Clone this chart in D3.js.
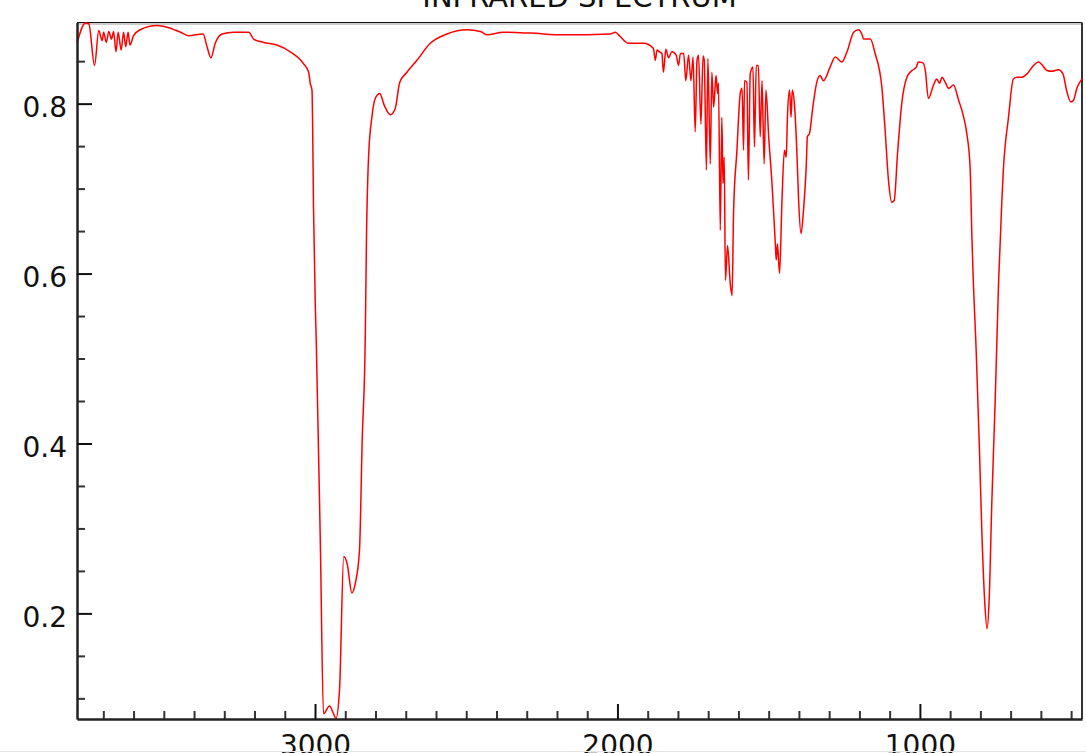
<!DOCTYPE html>
<html>
<head>
<meta charset="utf-8">
<script src="https://cdn.jsdelivr.net/npm/d3@7"></script>
<style>
  body { margin: 0; background: #fff; }
  svg { display: block; font-family: "DejaVu Sans", sans-serif; }
</style>
</head>
<body>
<div id="chart"></div>
<script>
// wavenumber (cm-1) and transmittance
var wavenumber = [3787,3759,3748,3729,3715,3704,3699,3690,3682,3673,3666,3658,3651,3641,3633,3626,3618,3612,3600,3578,
  3522,3489,3445,3418,3370,3357,3344,3330,3307,3269,3219,3203,3170,3126,3082,3038,3021,3016,3010,3008,
  3005,2999,2996,2982,2972,2952,2939,2931,2919,2905,2894,2878,2867,2853,2844,2834,2830,2823,2812,2801,
  2786,2771,2751,2735,2720,2696,2663,2619,2564,2497,2453,2431,2377,2288,2178,2024,2007,1991,1963,1914,
  1881,1875,1869,1861,1853,1848,1840,1831,1820,1806,1798,1792,1781,1774,1765,1757,1750,1743,1737,1732,
  1724,1717,1713,1706,1701,1693,1688,1682,1674,1669,1666,1660,1655,1651,1647,1643,1636,1627,1621,1616,
  1605,1594,1588,1583,1580,1572,1567,1561,1552,1547,1541,1534,1528,1522,1515,1509,1500,1489,1478,1475,
  1471,1464,1456,1448,1442,1438,1431,1426,1422,1415,1407,1401,1393,1385,1376,1372,1365,1354,1341,1330,
  1319,1297,1280,1258,1241,1219,1203,1192,1186,1164,1148,1126,1115,1104,1093,1085,1074,1060,1043,1026,
  1012,1005,990,982,972,955,944,935,927,916,905,889,872,858,845,834,828,825,814,803,
  795,786,778,771,762,751,740,729,724,707,691,679,663,646,624,608,597,580,564,542,
  527,514,501,492,481,468,464];
var transmittance = [0.871,0.895,0.894,0.845,0.886,0.874,0.884,0.872,0.885,0.876,0.885,0.861,0.884,0.863,0.884,0.867,0.884,0.869,0.880,0.887,
  0.892,0.890,0.884,0.880,0.882,0.867,0.854,0.871,0.882,0.884,0.884,0.876,0.872,0.869,0.861,0.847,0.837,0.824,0.816,0.776,
  0.678,0.561,0.522,0.274,0.082,0.091,0.082,0.076,0.110,0.267,0.259,0.224,0.235,0.274,0.404,0.522,0.639,0.737,0.784,0.806,
  0.812,0.798,0.787,0.794,0.825,0.837,0.851,0.871,0.882,0.887,0.885,0.881,0.884,0.883,0.881,0.882,0.884,0.879,0.871,0.871,
  0.865,0.851,0.863,0.861,0.859,0.837,0.864,0.854,0.861,0.857,0.845,0.859,0.859,0.827,0.857,0.827,0.855,0.767,0.851,0.857,
  0.776,0.856,0.851,0.722,0.853,0.729,0.837,0.796,0.833,0.812,0.824,0.651,0.784,0.706,0.737,0.592,0.633,0.588,0.574,0.674,
  0.745,0.812,0.818,0.745,0.827,0.825,0.710,0.835,0.843,0.749,0.845,0.845,0.761,0.827,0.729,0.816,0.761,0.706,0.635,0.616,
  0.635,0.600,0.686,0.745,0.737,0.784,0.816,0.784,0.816,0.800,0.745,0.686,0.647,0.674,0.725,0.761,0.765,0.796,0.825,0.833,
  0.827,0.843,0.855,0.849,0.861,0.884,0.887,0.882,0.876,0.876,0.859,0.820,0.769,0.710,0.684,0.686,0.741,0.800,0.831,0.839,
  0.843,0.849,0.848,0.839,0.806,0.822,0.829,0.824,0.831,0.825,0.818,0.822,0.804,0.788,0.765,0.725,0.643,0.608,0.510,0.392,
  0.294,0.216,0.182,0.216,0.333,0.451,0.588,0.686,0.722,0.784,0.829,0.831,0.831,0.835,0.845,0.849,0.846,0.839,0.838,0.840,
  0.835,0.814,0.802,0.804,0.818,0.827,0.829];
var xMajorTicks = [3000, 2000, 1000];
var yMajorTicks = [0.2, 0.4, 0.6, 0.8];
var yMinorTicks = [0.1, 0.15, 0.25, 0.3, 0.35, 0.45, 0.5, 0.55, 0.65, 0.7, 0.75, 0.85];
var chartTitle = "INFRARED SPECTRUM";

(function () {
    var W = 1086, H = 753;
    var mLeft = 77, mRight = 1082, mTop = 22.5, mBottom = 719;

    var points = wavenumber.map(function (w, i) { return { x: w, y: transmittance[i] }; });

    var xMinorTicks = d3.range(3700, 400, -100).filter(function (v) { return v % 1000 !== 0; });

    var x = d3.scaleLinear().domain([d3.max(wavenumber), d3.min(wavenumber)]).range([mLeft, mRight]);
    var y = d3.scaleLinear().domain([d3.min(transmittance) - 0.0003, d3.max(transmittance) + 0.0005]).range([mBottom, mTop]);

    var svg = d3.select("#chart").append("svg")
        .attr("width", W)
        .attr("height", H);

    svg.append("rect").attr("width", W).attr("height", H).attr("fill", "#fff");

    // frame (top + right)
    svg.append("line")
        .attr("x1", mLeft).attr("x2", mRight).attr("y1", mTop + 1.5).attr("y2", mTop + 1.5)
        .style("stroke", "#bbb").style("stroke-width", 1.5);
    svg.append("line")
        .attr("x1", mLeft).attr("x2", mRight).attr("y1", mTop).attr("y2", mTop)
        .style("stroke", "#111").style("stroke-width", 1);
    svg.append("line")
        .attr("x1", mRight).attr("x2", mRight).attr("y1", mTop).attr("y2", mBottom)
        .style("stroke", "#333").style("stroke-width", 2);

    // spectrum
    var line = d3.line()
        .curve(d3.curveMonotoneX)
        .x(function (d) { return x(d.x); })
        .y(function (d) { return y(d.y); });

    svg.append("path")
        .datum(points)
        .attr("fill", "none")
        .style("stroke", "#ff0000")
        .style("stroke-width", 1.5)
        .style("stroke-linejoin", "round")
        .attr("d", line);

    // minor ticks
    svg.append("g")
        .attr("transform", "translate(0," + mBottom + ")")
        .call(d3.axisBottom(x).tickValues(xMinorTicks).tickSize(-8).tickFormat(""))
        .call(function (g) { g.select(".domain").remove(); })
        .selectAll("line").style("stroke", "#333").style("stroke-width", 2);

    svg.append("g")
        .attr("transform", "translate(" + mLeft + ",0)")
        .call(d3.axisLeft(y).tickValues(yMinorTicks).tickSize(-8).tickFormat(""))
        .call(function (g) { g.select(".domain").remove(); })
        .selectAll("line").style("stroke", "#333").style("stroke-width", 2);

    // major axes
    var xAxis = svg.append("g")
        .attr("transform", "translate(0," + mBottom + ")")
        .call(d3.axisBottom(x).tickValues(xMajorTicks).tickSize(-15).tickPadding(0).tickSizeOuter(0).tickFormat(d3.format("d")));

    xAxis.selectAll("text")
        .attr("y", 36)
        .attr("dy", 0);

    var yAxis = svg.append("g")
        .attr("transform", "translate(" + mLeft + ",0)")
        .call(d3.axisLeft(y).tickValues(yMajorTicks).tickSize(-15).tickSizeOuter(0).tickFormat(d3.format(".1f")));

    yAxis.selectAll("text")
        .attr("x", -10)
        .attr("dy", "0.45em");

    [xAxis, yAxis].forEach(function (g) {
        g.selectAll("text")
            .style("font-family", "DejaVu Sans, sans-serif")
            .style("font-size", "28px")
            .style("fill", "#111");
        g.selectAll("line").style("stroke", "#111").style("stroke-width", 2);
        g.select(".domain").style("stroke", "#222").style("stroke-width", 2.5);
    });

    // title (partly clipped by the top edge)
    svg.append("text")
        .attr("x", (mLeft + mRight) / 2)
        .attr("y", 7)
        .attr("text-anchor", "middle")
        .style("font-size", "29px")
        .style("fill", "#111")
        .text(chartTitle);

    // faint line along the bottom edge
    svg.append("line")
        .attr("x1", 0).attr("x2", W).attr("y1", 751.5).attr("y2", 751.5)
        .style("stroke", "#e6e6e6").style("stroke-width", 1);
})();
</script>
</body>
</html>
